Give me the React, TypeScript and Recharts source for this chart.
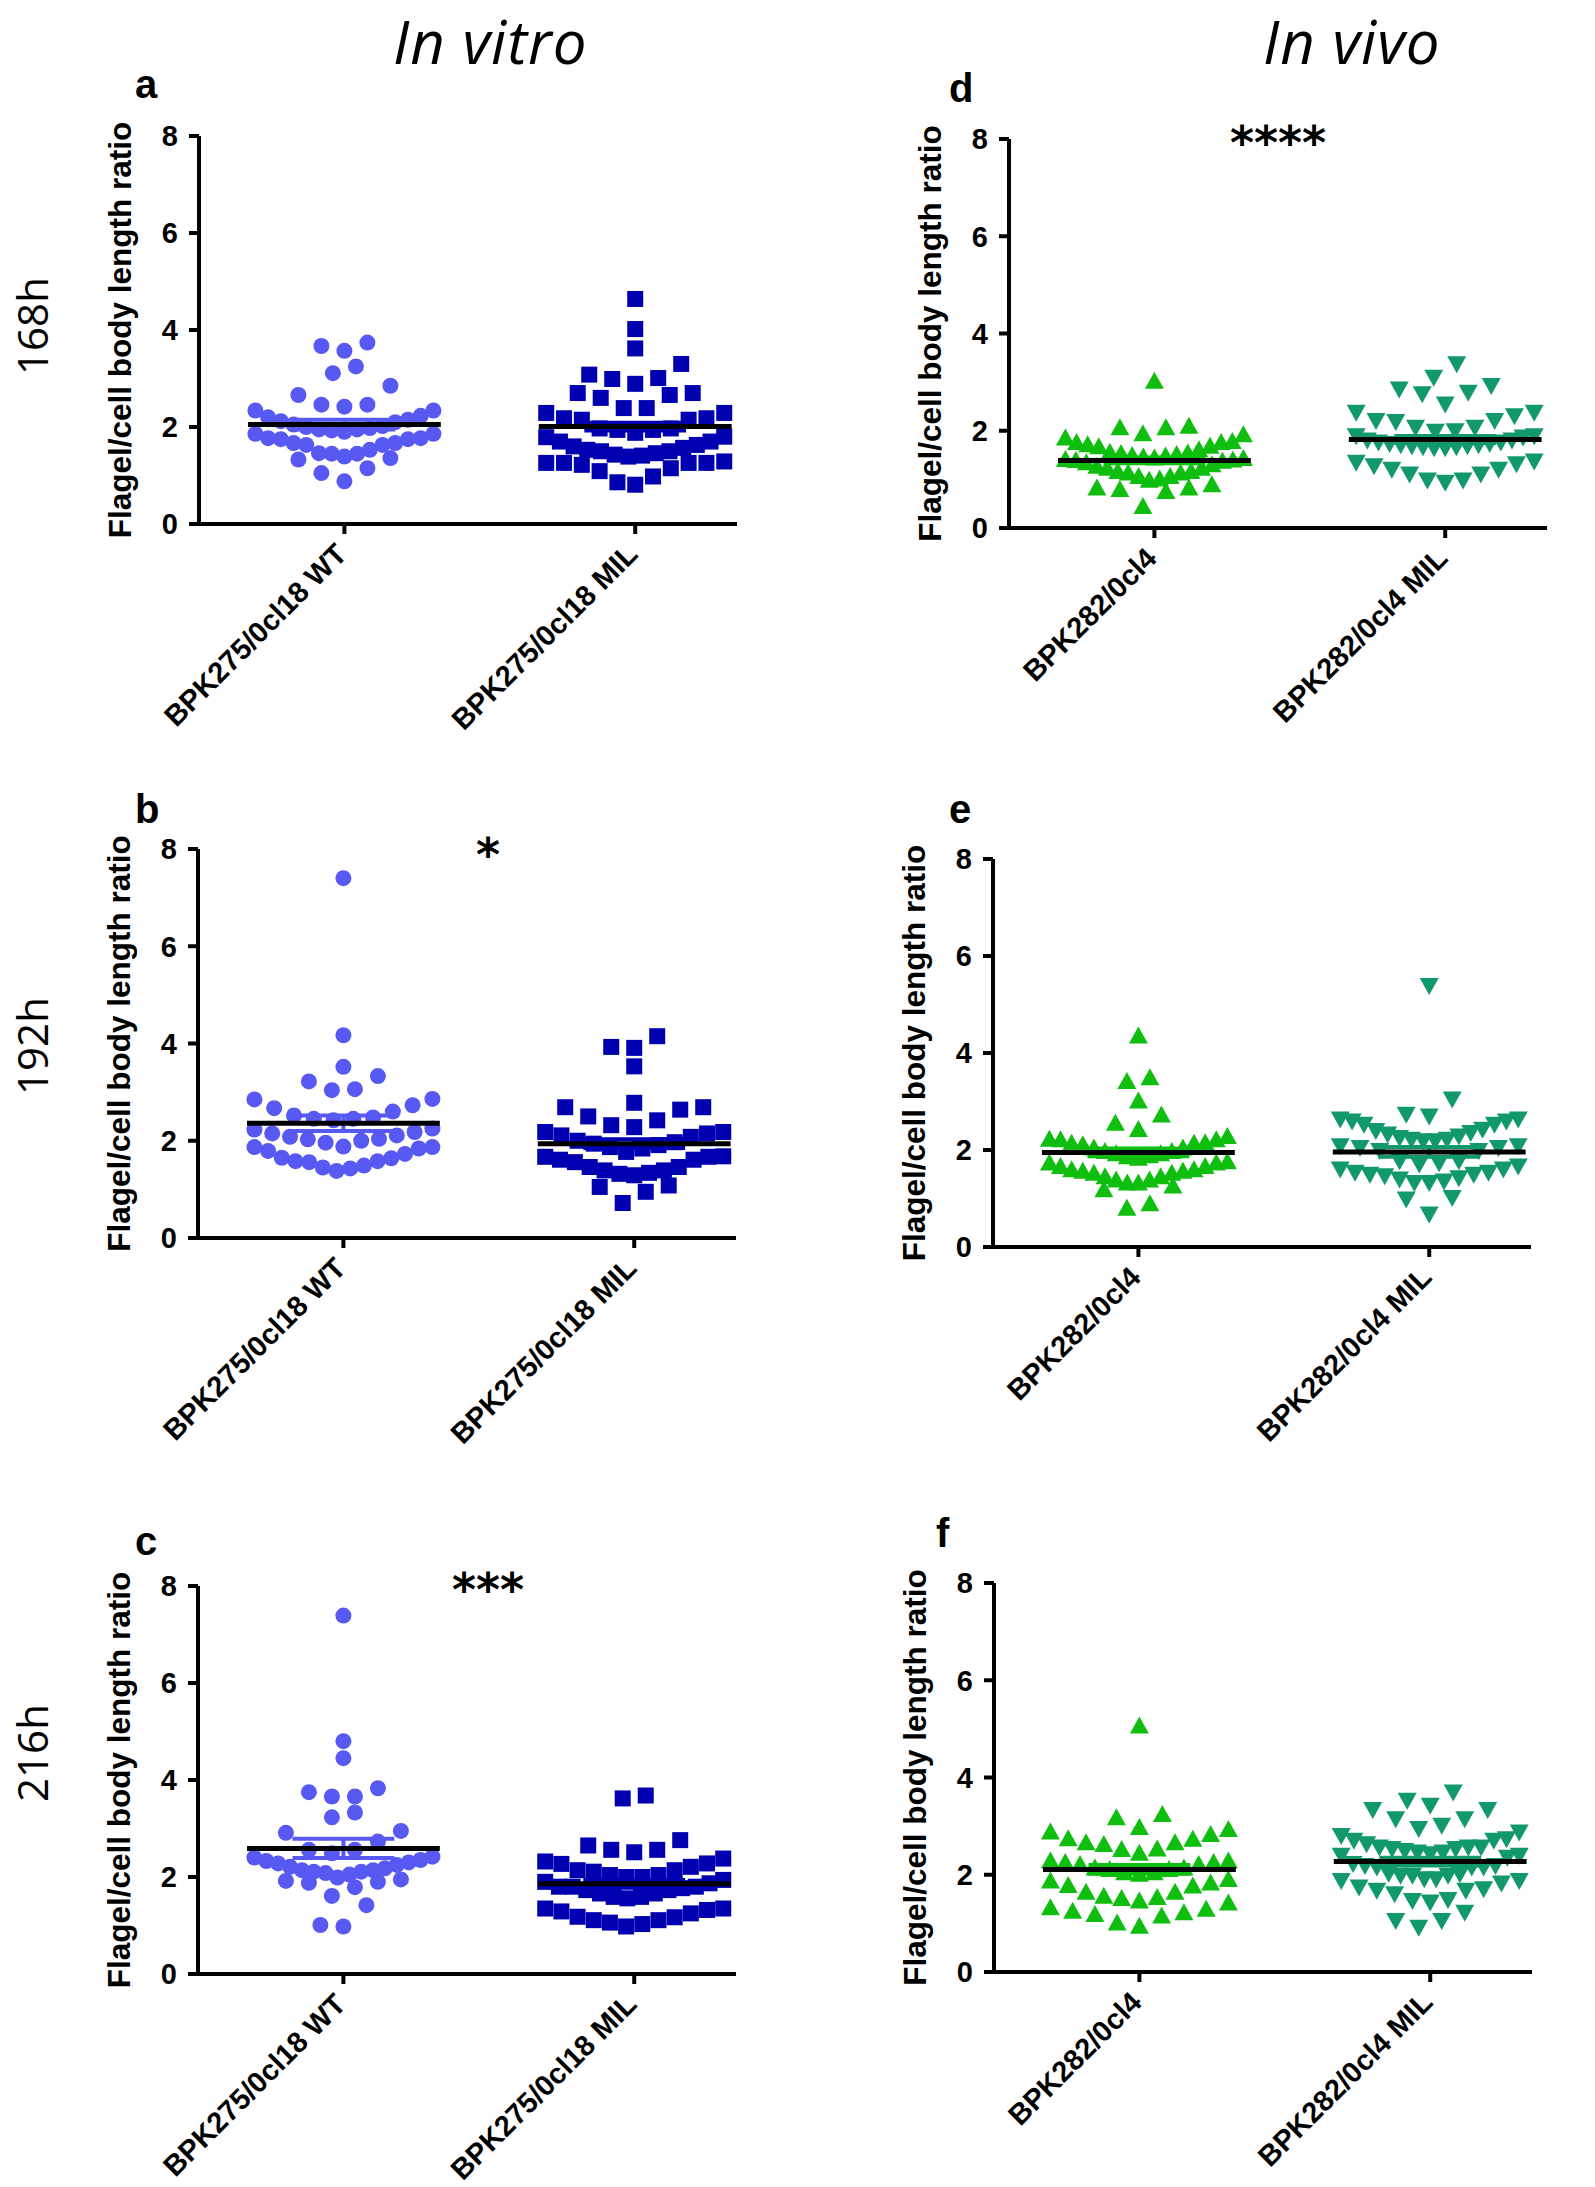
import React from 'react';
import { ScatterChart, Scatter, XAxis, YAxis, ReferenceLine } from 'recharts';

// ---------- text ----------
const yTicks = [0, 2, 4, 6, 8];
const xTickValues = [1, 3];
const inVitroLabels = ['BPK275/0cl18 WT', 'BPK275/0cl18 MIL'];
const inVivoLabels = ['BPK282/0cl4', 'BPK282/0cl4 MIL'];
const yLabel = 'Flagel/cell body length ratio';
const columnTitles = ['In vitro', 'In vivo'];
const timeLabels = ['168h', '192h', '216h'];
const panelLetters = ['a', 'b', 'c', 'd', 'e', 'f'];
const significance = ['', '*', '***', '****', '', ''];

// ---------- values ----------
const aWT = [3.74, 3.67, 3.57, 3.25, 3.11, 2.85, 2.66, 2.46, 2.46, 2.42, 2.34, 2.34, 2.23, 2.2, 2.15, 2.12, 2.1, 2.05, 2.02, 2.0, 1.98, 1.95, 1.95, 1.93, 1.9, 1.86, 1.86, 1.77, 1.77, 1.75, 1.75, 1.67, 1.67, 1.63, 1.63, 1.53, 1.46, 1.45, 1.45, 1.39, 1.36, 1.33, 1.15, 1.05, 0.88];
const aMIL = [4.64, 4.02, 3.62, 3.3, 3.08, 3.01, 2.99, 2.89, 2.7, 2.7, 2.66, 2.6, 2.39, 2.39, 2.29, 2.29, 2.18, 2.18, 2.15, 2.15, 1.97, 1.97, 1.94, 1.94, 1.88, 1.8, 1.79, 1.7, 1.7, 1.63, 1.6, 1.57, 1.53, 1.5, 1.5, 1.46, 1.43, 1.41, 1.39, 1.29, 1.26, 1.26, 1.26, 1.26, 1.22, 1.15, 1.09, 0.98, 0.86, 0.81];
const bWT = [7.4, 4.17, 3.52, 3.33, 3.22, 3.06, 3.04, 2.86, 2.85, 2.73, 2.67, 2.6, 2.52, 2.48, 2.45, 2.45, 2.42, 2.25, 2.23, 2.18, 2.15, 2.11, 2.08, 2.04, 2.03, 2.0, 1.96, 1.88, 1.87, 1.87, 1.84, 1.79, 1.73, 1.65, 1.64, 1.58, 1.58, 1.56, 1.49, 1.45, 1.43, 1.38];
const bMIL = [4.15, 3.93, 3.91, 3.53, 2.78, 2.69, 2.69, 2.64, 2.5, 2.42, 2.32, 2.28, 2.18, 2.18, 2.15, 2.11, 2.08, 2.0, 1.97, 1.94, 1.91, 1.87, 1.84, 1.77, 1.68, 1.67, 1.67, 1.61, 1.61, 1.56, 1.46, 1.46, 1.39, 1.39, 1.34, 1.32, 1.29, 1.08, 1.05, 0.95, 0.72];
const cWT = [7.39, 4.8, 4.45, 3.83, 3.75, 3.66, 3.66, 3.33, 3.23, 2.95, 2.91, 2.73, 2.56, 2.56, 2.49, 2.42, 2.4, 2.35, 2.33, 2.3, 2.28, 2.25, 2.21, 2.18, 2.14, 2.14, 2.11, 2.11, 2.08, 2.05, 1.99, 1.95, 1.92, 1.9, 1.88, 1.79, 1.61, 1.42, 1.01, 0.98];
const cMIL = [3.68, 3.62, 2.76, 2.65, 2.56, 2.56, 2.51, 2.38, 2.32, 2.28, 2.27, 2.21, 2.14, 2.14, 2.11, 2.04, 2.04, 2.0, 2.0, 1.94, 1.9, 1.87, 1.8, 1.8, 1.8, 1.77, 1.73, 1.73, 1.66, 1.66, 1.59, 1.59, 1.56, 1.35, 1.35, 1.32, 1.29, 1.25, 1.18, 1.17, 1.11, 1.11, 1.06, 1.03, 0.98];
const dWT = [3.01, 2.08, 2.05, 2.05, 1.93, 1.91, 1.84, 1.77, 1.75, 1.75, 1.7, 1.67, 1.66, 1.6, 1.55, 1.53, 1.52, 1.5, 1.48, 1.47, 1.45, 1.43, 1.42, 1.4, 1.39, 1.38, 1.36, 1.33, 1.29, 1.26, 1.22, 1.22, 1.15, 1.15, 1.12, 1.12, 1.05, 1.05, 1.0, 0.97, 0.88, 0.81, 0.81, 0.78, 0.74, 0.43];
const dMIL = [3.39, 3.11, 2.94, 2.87, 2.8, 2.77, 2.56, 2.39, 2.39, 2.32, 2.22, 2.22, 2.2, 2.08, 2.08, 2.01, 2.0, 1.91, 1.91, 1.88, 1.82, 1.82, 1.78, 1.78, 1.75, 1.75, 1.72, 1.72, 1.7, 1.7, 1.68, 1.68, 1.66, 1.66, 1.39, 1.36, 1.33, 1.29, 1.22, 1.22, 1.12, 1.12, 1.0, 1.0, 0.95];
const eWT = [4.34, 3.48, 3.4, 3.0, 2.71, 2.54, 2.41, 2.27, 2.21, 2.2, 2.2, 2.14, 2.13, 2.13, 2.1, 2.03, 2.03, 1.96, 1.96, 1.91, 1.91, 1.87, 1.85, 1.82, 1.75, 1.72, 1.72, 1.65, 1.65, 1.58, 1.58, 1.55, 1.55, 1.51, 1.51, 1.44, 1.44, 1.37, 1.37, 1.31, 1.31, 1.25, 1.17, 0.88, 0.79];
const eMIL = [5.4, 3.06, 2.75, 2.71, 2.65, 2.65, 2.61, 2.61, 2.54, 2.54, 2.44, 2.41, 2.37, 2.34, 2.3, 2.27, 2.23, 2.23, 2.2, 2.2, 2.1, 2.1, 2.06, 2.06, 2.0, 2.0, 1.79, 1.79, 1.75, 1.72, 1.68, 1.62, 1.62, 1.55, 1.55, 1.51, 1.51, 1.48, 1.44, 1.41, 1.37, 1.34, 1.34, 1.03, 1.0, 0.69];
const fWT = [5.05, 3.23, 3.16, 2.96, 2.92, 2.87, 2.82, 2.73, 2.72, 2.65, 2.65, 2.61, 2.52, 2.51, 2.43, 2.27, 2.27, 2.24, 2.24, 2.2, 2.2, 2.13, 2.13, 2.1, 2.1, 2.03, 2.03, 2.0, 1.89, 1.86, 1.82, 1.77, 1.76, 1.63, 1.63, 1.55, 1.52, 1.5, 1.45, 1.41, 1.31, 1.28, 1.24, 1.21, 1.17, 1.14, 1.0, 0.93];
const fMIL = [3.71, 3.54, 3.44, 3.35, 3.35, 3.16, 3.16, 3.03, 2.96, 2.89, 2.82, 2.75, 2.72, 2.72, 2.65, 2.58, 2.58, 2.58, 2.55, 2.55, 2.51, 2.48, 2.48, 2.44, 2.41, 2.41, 2.37, 2.24, 2.2, 2.2, 2.17, 2.17, 2.17, 2.04, 2.03, 2.0, 2.0, 2.0, 1.93, 1.93, 1.89, 1.89, 1.84, 1.76, 1.72, 1.69, 1.69, 1.62, 1.5, 1.48, 1.45, 1.24, 1.07, 1.07, 0.93];

const means = [[2.05, 2.01], [2.36, 1.94], [2.59, 1.86], [1.39, 1.82], [1.95, 1.96], [2.11, 2.27]];
const sems = [[0.1, 0.08], [0.16, 0.09], [0.2, 0.08], [0.06, 0.07], [0.08, 0.1], [0.09, 0.08]];

// ---------- style / layout ----------
const COLORS = { wtVitro: '#5858f2', milVitro: '#0000b0', wtVivo: '#0fbe0f', milVivo: '#12996b' };
const FONT = '"Liberation Sans", Arial, sans-serif';
const X_MAX = 3.7;
const PLOT_W = 538;
const PX_PER_X = PLOT_W / X_MAX;
const BIN = 0.5;
const MAX_STEP = 23 / PX_PER_X;
const MAX_SPAN = 178 / PX_PER_X;
const MEAN_HALF = 0.663;
const SEM_HALF = 0.35;
const Y_AXIS_W = 100;
const M_LEFT = 20;
const M_TOP = 40;
const X_AXIS_H = 210;

const layout = [
  { axisX: 199, yTop: 136, yBot: 524 },
  { axisX: 198, yTop: 849, yBot: 1238 },
  { axisX: 198, yTop: 1586, yBot: 1974 },
  { axisX: 1009, yTop: 139, yBot: 528 },
  { axisX: 993, yTop: 859, yBot: 1247 },
  { axisX: 994, yTop: 1583, yBot: 1972 },
];
const letterPos = [[135, 98], [135, 823], [135, 1555], [949, 102], [949, 823], [936, 1547]];
const starPos = [[0, 0], [488, 871], [488, 1606], [1278, 159], [0, 0], [0, 0]];

// beeswarm layout, GraphPad-like: bins from min, each bin a row, lowest values in the centre
function swarm(values: number[], center: number) {
  const sorted = [...values].sort((a, b) => a - b);
  const min = sorted[0];
  const bins: number[][] = [];
  sorted.forEach((v) => {
    const k = Math.floor((v - min) / BIN + 1e-9);
    (bins[k] = bins[k] || []).push(v);
  });
  const pts: { x: number; y: number }[] = [];
  bins.forEach((bin) => {
    if (!bin) return;
    const n = bin.length;
    const step = n > 1 ? Math.min(MAX_STEP, MAX_SPAN / (n - 1)) : 0;
    const slots = Array.from({ length: n }, (_, i) => (i - (n - 1) / 2) * step);
    slots.sort((a, b) => Math.abs(a) - Math.abs(b) || a - b);
    bin.forEach((v, i) => pts.push({ x: center + slots[i], y: v }));
  });
  return pts;
}

const makeShape = (kind: string, color: string) => (p: any) => {
  const { cx, cy } = p;
  if (cx == null || cy == null) return <g />;
  if (kind === 'circle') return <circle cx={cx} cy={cy} r={8} fill={color} />;
  if (kind === 'square') return <rect x={cx - 8} y={cy - 8} width={16} height={16} fill={color} />;
  if (kind === 'up')
    return <polygon points={`${cx},${cy - 10} ${cx - 9.5},${cy + 7} ${cx + 9.5},${cy + 7}`} fill={color} />;
  return <polygon points={`${cx},${cy + 10} ${cx - 9.5},${cy - 7} ${cx + 9.5},${cy - 7}`} fill={color} />;
};

const panels = [
  { wt: aWT, mil: aMIL, labels: inVitroLabels, kinds: ['circle', 'square'], colors: [COLORS.wtVitro, COLORS.milVitro] },
  { wt: bWT, mil: bMIL, labels: inVitroLabels, kinds: ['circle', 'square'], colors: [COLORS.wtVitro, COLORS.milVitro] },
  { wt: cWT, mil: cMIL, labels: inVitroLabels, kinds: ['circle', 'square'], colors: [COLORS.wtVitro, COLORS.milVitro] },
  { wt: dWT, mil: dMIL, labels: inVivoLabels, kinds: ['up', 'down'], colors: [COLORS.wtVivo, COLORS.milVivo] },
  { wt: eWT, mil: eMIL, labels: inVivoLabels, kinds: ['up', 'down'], colors: [COLORS.wtVivo, COLORS.milVivo] },
  { wt: fWT, mil: fMIL, labels: inVivoLabels, kinds: ['up', 'down'], colors: [COLORS.wtVivo, COLORS.milVivo] },
];

const XTick = (props: any) => {
  const { x, y, payload, labels } = props;
  const idx = xTickValues.indexOf(payload.value);
  return (
    <text
      transform={`translate(${x + 4},${y + 20}) rotate(-45)`}
      textAnchor="end"
      fontFamily={FONT}
      fontWeight="bold"
      fontSize={29}
      fill="#000"
    >
      {labels[idx]}
    </text>
  );
};

const YTick = (props: any) => {
  const { x, y, payload } = props;
  return (
    <text x={x} y={y} dy="0.36em" textAnchor="end" fontFamily={FONT} fontWeight="bold" fontSize={29} fill="#000">
      {payload.value}
    </text>
  );
};

function Panel({ index }: { index: number }) {
  const L = layout[index];
  const P = panels[index];
  const plotH = L.yBot - L.yTop;
  const plotLeft = M_LEFT + Y_AXIS_W;
  const width = plotLeft + PLOT_W + 30;
  const height = M_TOP + plotH + X_AXIS_H + 5;
  const groups = [P.wt, P.mil];
  const seriesOrder = [0, 1];
  return (
    <div style={{ position: 'absolute', left: L.axisX - plotLeft, top: L.yTop - M_TOP }}>
      <ScatterChart
        width={width}
        height={height}
        margin={{ top: M_TOP, right: 30, left: M_LEFT, bottom: 5 }}
        style={{ overflow: 'visible' }}
      >
        <XAxis
          type="number"
          dataKey="x"
          domain={[0, X_MAX]}
          ticks={xTickValues}
          allowDataOverflow
          height={X_AXIS_H}
          tickSize={10}
          axisLine={{ stroke: '#000', strokeWidth: 4 }}
          tickLine={{ stroke: '#000', strokeWidth: 4 }}
          tick={<XTick labels={P.labels} />}
          interval={0}
        />
        <YAxis
          type="number"
          dataKey="y"
          domain={[0, 8]}
          ticks={yTicks}
          width={Y_AXIS_W}
          tickSize={10}
          tickMargin={11}
          axisLine={{ stroke: '#000', strokeWidth: 4 }}
          tickLine={{ stroke: '#000', strokeWidth: 4 }}
          tick={<YTick />}
          interval={0}
        />
        {seriesOrder.map((g) => (
          <Scatter
            key={'s' + g}
            data={swarm(groups[g], xTickValues[g])}
            shape={makeShape(P.kinds[g], P.colors[g])}
            isAnimationActive={false}
          />
        ))}
        {seriesOrder.map((g) => {
          const cx = xTickValues[g];
          const m = means[index][g];
          const s = sems[index][g];
          return (
            <React.Fragment key={'m' + g}>
              <ReferenceLine
                segment={[{ x: cx, y: m - s }, { x: cx, y: m + s }]}
                stroke={P.colors[g]}
                strokeWidth={4}
                zIndex={900}
              />
              <ReferenceLine
                segment={[{ x: cx - SEM_HALF, y: m + s }, { x: cx + SEM_HALF, y: m + s }]}
                stroke={P.colors[g]}
                strokeWidth={4}
                zIndex={900}
              />
              <ReferenceLine
                segment={[{ x: cx - SEM_HALF, y: m - s }, { x: cx + SEM_HALF, y: m - s }]}
                stroke={P.colors[g]}
                strokeWidth={4}
                zIndex={900}
              />
              <ReferenceLine
                segment={[{ x: cx - MEAN_HALF, y: m }, { x: cx + MEAN_HALF, y: m }]}
                stroke="#000"
                strokeWidth={5}
                zIndex={1000}
              />
            </React.Fragment>
          );
        })}
      </ScatterChart>
    </div>
  );
}

export default function App() {
  return (
    <div style={{ position: 'absolute', left: 0, top: 0, width: 1595, height: 2187, background: '#fff', overflow: 'hidden' }}>
      {layout.map((_, i) => (
        <Panel key={i} index={i} />
      ))}
      <svg width={1595} height={2187} style={{ position: 'absolute', left: 0, top: 0, pointerEvents: 'none' }}>
        <text x={393} y={64} fontFamily='"Open Sans", sans-serif' fontStyle="italic" fontSize={60} letterSpacing={1} fill="#000">
          {columnTitles[0]}
        </text>
        <text x={1263} y={64} fontFamily='"Open Sans", sans-serif' fontStyle="italic" fontSize={60} letterSpacing={1} fill="#000">
          {columnTitles[1]}
        </text>
        {timeLabels.map((t, i) => (
          <text
            key={t}
            transform={`translate(31,${[326, 1046, 1753][i]}) rotate(-90)`}
            textAnchor="middle"
            dominantBaseline="central"
            fontFamily='"Open Sans", sans-serif'
            fontSize={42}
            fill="#000"
          >
            {t}
          </text>
        ))}
        {layout.map((L, i) => (
          <text
            key={'yl' + i}
            transform={`translate(${L.axisX - 79},${(L.yTop + L.yBot) / 2}) rotate(-90)`}
            textAnchor="middle"
            dominantBaseline="central"
            fontFamily={FONT}
            fontWeight="bold"
            fontSize={31.5}
            fill="#000"
          >
            {yLabel}
          </text>
        ))}
        {panelLetters.map((l, i) => (
          <text key={l} x={letterPos[i][0]} y={letterPos[i][1]} fontFamily={FONT} fontWeight="bold" fontSize={40} fill="#000">
            {l}
          </text>
        ))}
        {significance.map((s, i) =>
          s ? (
            <text
              key={'sig' + i}
              x={starPos[i][0]}
              y={starPos[i][1]}
              textAnchor="middle"
              fontFamily='"DejaVu Sans", sans-serif'
              fontWeight="bold"
              fontSize={46}
              fill="#000"
            >
              {s}
            </text>
          ) : null
        )}
      </svg>
    </div>
  );
}
